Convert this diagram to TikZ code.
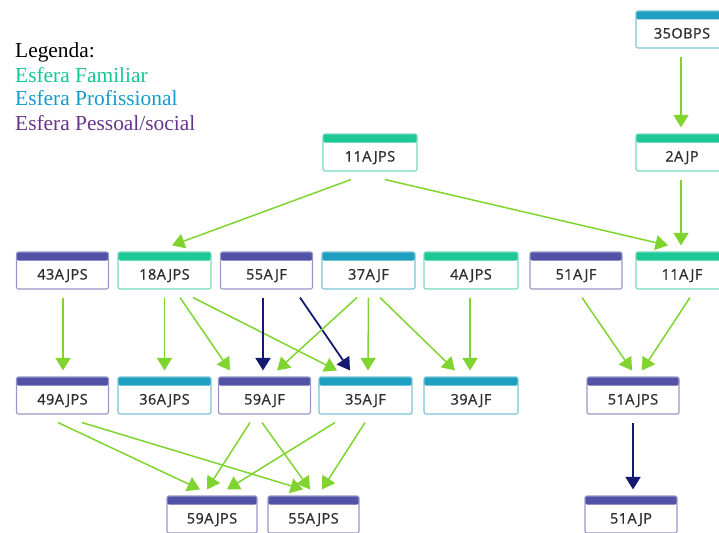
\documentclass[tikz,border=0pt]{standalone}
\usepackage{fontspec}
\setmainfont{Liberation Serif}
\newfontfamily\boxfont[LetterSpace=3, FakeBold=0.9]{Open Sans}
\usetikzlibrary{arrows.meta,calc}

% sphere colours
\definecolor{famhead}{RGB}{28,200,150}
\definecolor{famedge}{RGB}{120,215,190}
\definecolor{prohead}{RGB}{32,160,192}
\definecolor{proedge}{RGB}{120,196,212}
\definecolor{peshead}{RGB}{82,82,166}
\definecolor{pesedge}{RGB}{150,150,200}
\definecolor{famtext}{RGB}{20,200,150}
\definecolor{protext}{RGB}{20,155,205}
\definecolor{pestext}{RGB}{104,52,142}
\definecolor{boxtext}{RGB}{45,45,50}
\definecolor{lgreen}{RGB}{128,212,48}
\definecolor{navy}{RGB}{20,26,112}

\tikzset{
  card/.style={rectangle, rounded corners=2pt, line width=1.1pt, fill=white,
    minimum width=92pt, text height=18pt, text depth=0pt, inner ysep=9.5pt,
    inner xsep=0pt, text=boxtext, font=\boxfont\fontsize{14.5}{14.5}\selectfont},
  header/.style={path picture={\fill[#1] (path picture bounding box.north west)
    rectangle ([yshift=-8.5pt]path picture bounding box.north east);}},
  fam/.style={card, draw=famedge, header=famhead},
  pro/.style={card, draw=proedge, header=prohead},
  pes/.style={card, draw=pesedge, header=peshead},
  legend/.style={anchor=base west, inner sep=0pt, font=\fontsize{21.4}{21.4}\selectfont},
  ga/.style={draw=lgreen, line width=1.5pt, -{Triangle[width=15pt,length=12.5pt]}},
  na/.style={draw=navy, line width=1.8pt, -{Triangle[width=15pt,length=12.5pt]}},
}

% arrow from the bottom of one card to the top of another
\newcommand\conn[5][ga]{\draw[#1] ($(#2.south)+(#3,8)$) -- ($(#4.north)+(#5,-6)$);}

\begin{document}
\begin{tikzpicture}[x=1pt,y=-1pt]
\useasboundingbox (0,0) rectangle (719,532);

% legend
\node[legend] (leg) at (15,58) {Legenda:};
\node[legend, text=famtext] (legfam) at (15,82.3) {Esfera Familiar};
\node[legend, text=protext] (legpro) at (15,106) {Esfera Profissional};
\node[legend, text=pestext] (legpes) at (15,130) {Esfera Pessoal/social};

% top rows
\node[pro] (n35OBPS) at (682,29.5) {35OBPS};
\node[fam] (n2AJP)   at (682,152.5) {2AJP};
\node[fam, minimum width=94pt] (n11AJPS) at (370,152.5) {11AJPS};

% second row
\node[pes] (n43AJPS) at (62.5,270.5) {43AJPS};
\node[fam, minimum width=93pt] (n18AJPS) at (164.5,270.5) {18AJPS};
\node[pes] (n55AJF)  at (266.5,270.5) {55AJF};
\node[pro, minimum width=93pt] (n37AJF)  at (368.5,270.5) {37AJF};
\node[fam, minimum width=94pt] (n4AJPS)  at (471,270.5) {4AJPS};
\node[pes] (n51AJF)  at (576,270.5) {51AJF};
\node[fam] (n11AJF)  at (682,270.5) {11AJF};

% third row
\node[pes] (n49AJPS) at (62.5,395.5) {49AJPS};
\node[pro, minimum width=93pt] (n36AJPS) at (164.5,395.5) {36AJPS};
\node[pes] (n59AJF)  at (264.5,395.5) {59AJF};
\node[pro, minimum width=93pt] (n35AJF)  at (365.5,395.5) {35AJF};
\node[pro, minimum width=94pt] (n39AJF)  at (471,395.5) {39AJF};
\node[pes] (n51AJPS) at (633,395.5) {51AJPS};

% bottom row
\node[pes, minimum width=90pt] (n59AJPS) at (212,514.5) {59AJPS};
\node[pes, minimum width=91pt] (n55AJPS) at (313.5,514.5) {55AJPS};
\node[pes] (n51AJP)  at (631,514.5) {51AJP};

% connectors
\conn{n35OBPS}{-1}{n2AJP}{-1}
\conn{n11AJPS}{-19}{n18AJPS}{7.5}
\conn{n11AJPS}{15}{n11AJF}{-14}
\conn{n2AJP}{-1}{n11AJF}{-1}

\conn{n43AJPS}{0.5}{n49AJPS}{0.5}
\conn{n18AJPS}{0}{n36AJPS}{0}
\conn{n18AJPS}{15.5}{n59AJF}{-34.5}
\conn{n18AJPS}{28.5}{n35AJF}{-28.5}
\conn[na]{n55AJF}{-3.5}{n59AJF}{-1.5}
\conn[na]{n55AJF}{33.5}{n35AJF}{-15.5}
\conn{n37AJF}{-11.5}{n59AJF}{12.5}
\conn{n37AJF}{0}{n35AJF}{2.5}
\conn{n37AJF}{11.5}{n39AJF}{-16}
\conn{n4AJPS}{-1}{n39AJF}{-1}
\conn{n51AJF}{6}{n51AJPS}{-1}
\conn{n11AJF}{8}{n51AJPS}{9}

\conn{n49AJPS}{-4.5}{n59AJPS}{-12}
\conn{n49AJPS}{19.5}{n55AJPS}{-10.5}
\conn{n59AJF}{-14.5}{n59AJPS}{-5}
\conn{n59AJF}{-2.5}{n55AJPS}{-3.5}
\conn{n35AJF}{-30.5}{n59AJPS}{15}
\conn{n35AJF}{-0.5}{n55AJPS}{8.5}
\conn[na]{n51AJPS}{0}{n51AJP}{2}
\end{tikzpicture}
\end{document}
